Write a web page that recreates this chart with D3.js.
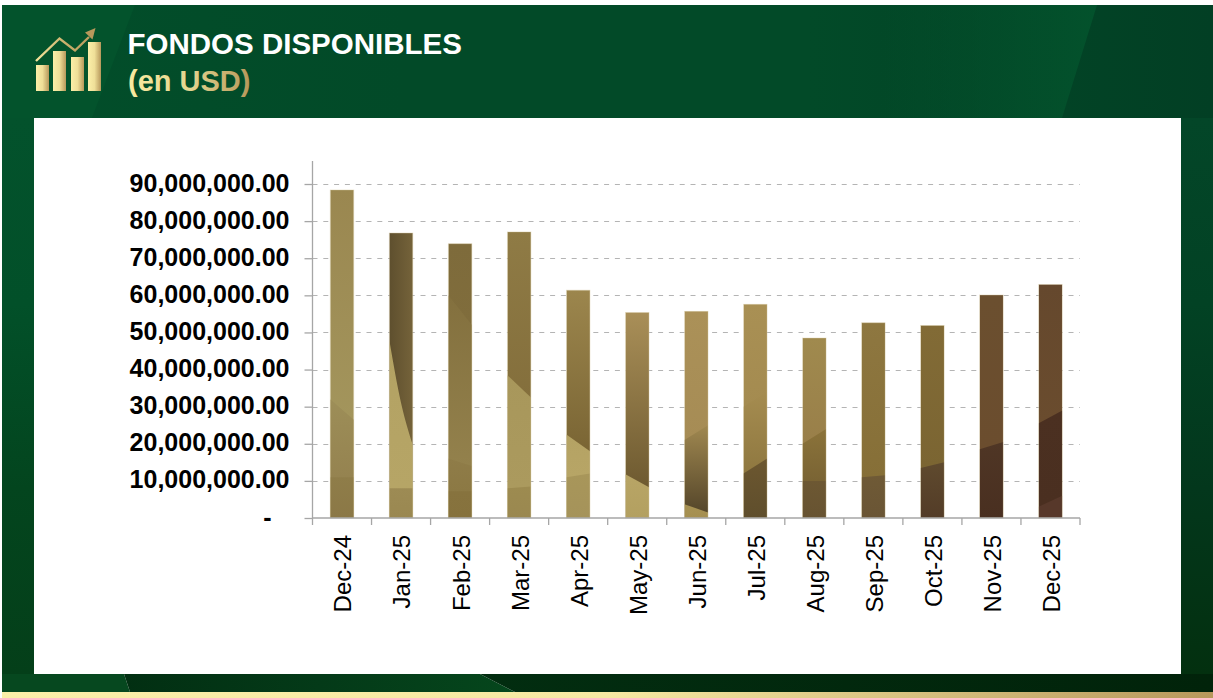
<!DOCTYPE html>
<html>
<head>
<meta charset="utf-8">
<title>Fondos disponibles</title>
<script src="https://d3js.org/d3.v7.min.js"></script>
<style>
  body { margin: 0; background: #fff; }
  svg { display: block; font-family: "Liberation Sans", Arial, sans-serif; }
  .grid line { stroke: #b4b4b4; stroke-width: 1; stroke-dasharray: 5 5.8; }
  .axis path, .axis line { stroke: #a6a6a6; stroke-width: 1.3; }
  .y-axis text { font-size: 25px; font-weight: bold; fill: #000; }
  .x-axis text { font-size: 24px; fill: #000; }
</style>
</head>
<body>
<script>
// values, in USD
var months = ["Dec-24","Jan-25","Feb-25","Mar-25","Apr-25","May-25","Jun-25","Jul-25","Aug-25","Sep-25","Oct-25","Nov-25","Dec-25"];
var funds = [88400000,76800000,73900000,77100000,61400000,55400000,55700000,57600000,48500000,52600000,51900000,60100000,62900000];
var yTicks = [0,10000000,20000000,30000000,40000000,50000000,60000000,70000000,80000000,90000000];

// the bars show a picture through them: for every bar, bands going down.
// edge = where the band starts (in millions), left to right across the bar
var barBands = [
  [{edge:[100,100], c:["#9a8750","#a3955c"]}, {edge:[32,26.5], c:["#9d8e58","#958350"]}, {edge:[11,11], c:["#8f7d49","#8b7846"]}],
  [{edge:[100,100], c:["#5e4f2e","#75633a"], h:1}, {edge:[48,31,19.6], c:["#b3a263","#b6a566"]}, {edge:[8,8], c:["#9d8b54","#9a8851"]}],
  [{edge:[100,100], c:["#7e6b3b","#806d3c"]}, {edge:[60,52], c:["#83703e","#93814c"]}, {edge:[16,14], c:["#8f7c48","#8c7944"]}, {edge:[7.2,7.2], c:["#87733e","#86723d"]}],
  [{edge:[100,100], c:["#8f7b45","#846f3c"]}, {edge:[38.5,32.5], c:["#a8975b","#ab9a5e"]}, {edge:[8,8.5], c:["#9d8b50","#9a8850"]}],
  [{edge:[100,100], c:["#9c864d","#7a6534"]}, {edge:[22.5,18], c:["#b5a364","#b7a566"]}, {edge:[11,12], c:["#a8965a","#a5935a"]}],
  [{edge:[100,100], c:["#a98f58","#6e5a30"]}, {edge:[11.8,8.3], c:["#b8a566","#b3a060"]}],
  [{edge:[100,100], c:["#ab9158","#a68c55"]}, {edge:[21,25], c:["#a08850","#55462a"]}, {edge:[3.7,1.5], c:["#a89253","#a58f50"]}],
  [{edge:[100,100], c:["#a99054","#a48b50"]}, {edge:[30,34], c:["#a58c50","#8f7840"]}, {edge:[12,16], c:["#6c5730","#5f4e2c"]}],
  [{edge:[100,100], c:["#a08a4e","#997f49"]}, {edge:[20,24], c:["#8b733a","#7a6434"]}, {edge:[10,10], c:["#6d5833","#675331"]}],
  [{edge:[100,100], c:["#8e7740","#866f37"]}, {edge:[11,11.5], c:["#6f5a36","#6a5535"]}],
  [{edge:[100,100], c:["#826b36","#7b6532"]}, {edge:[13.5,15], c:["#5f4a2e","#533c27"]}],
  [{edge:[100,100], c:["#6b4f2f","#6b4d2e"]}, {edge:[18.5,20.5], c:["#4f3625","#492f20"]}],
  [{edge:[100,100], c:["#65482d","#6a4c2e"]}, {edge:[25.5,29], c:["#4b3021","#4a2f20"]}, {edge:[3,6], c:["#57382a","#57382a"]}]
];

var width = 1213, height = 698;
var margin = {top: 161, right: 133, bottom: 180, left: 312.5};

var svg = d3.select("body").append("svg")
    .attr("width", width)
    .attr("height", height);
var defs = svg.append("defs");

function gradient(id, stops, x1, y1, x2, y2, units) {
  var g = defs.append("linearGradient").attr("id", id)
      .attr("x1", x1).attr("y1", y1).attr("x2", x2).attr("y2", y2);
  if (units) g.attr("gradientUnits", units);
  stops.forEach(function(c, i) {
    g.append("stop").attr("offset", i / (stops.length - 1)).attr("stop-color", c);
  });
}

gradient("bgHeader", ["#024e2a","#024a28","#024a28","#023f24"], 0, 0, 1, 0);
gradient("bgLeft", ["#03522c","#025029","#03451e","#043f19"], 0, 0, 0, 1);
gradient("bgRight", ["#034628","#024224","#03371c","#03300f"], 0, 0, 0, 1);
gradient("bgLow1", ["#022f12","#043a18","#05461c"], 0, 0, 1, 0);
gradient("bgLow2", ["#022d10","#01230a"], 0, 0, 1, 0);
gradient("goldBand", ["#fbefa8","#f6e9a2","#b7985b"], 0, 0, 1, 0);
gradient("goldH", ["#fbefa8","#efdf98","#b7985b"], 0, 0, 1, 0);
gradient("goldIcon", ["#f4e59c","#c9ae6a","#b7985b"], 36, 0, 96, 0, "userSpaceOnUse");
gradient("goldTitle", ["#f8eba0","#e5d58f","#b7985b"], 128, 0, 250, 0, "userSpaceOnUse");
defs.append("linearGradient").attr("id", "bgFade")
  .selectAll("stop")
  .data([[0, 0], [1, 1]])
  .join("stop")
    .attr("offset", function(d) { return d[0]; })
    .attr("stop-color", "#03522c")
    .attr("stop-opacity", function(d) { return d[1]; });

// background, only the parts round the white panel show
svg.append("rect").attr("x", 2).attr("y", 5).attr("width", width - 2).attr("height", 113).attr("fill", "url(#bgHeader)");
svg.append("polygon").attr("points", "2,5 135,5 92,118 2,118").attr("fill", "#03532c");
svg.append("polygon").attr("points", "880,5 1097,5 1062,118 880,118").attr("fill", "url(#bgFade)");
svg.append("rect").attr("x", 2).attr("y", 118).attr("width", 32).attr("height", 556).attr("fill", "url(#bgLeft)");
svg.append("rect").attr("x", 1181).attr("y", 118).attr("width", 32).attr("height", 556).attr("fill", "url(#bgRight)");
svg.append("polygon").attr("points", "2,674 124,674 130,692 2,692").attr("fill", "#06481f");
svg.append("polygon").attr("points", "124,674 480,674 515,692 130,692").attr("fill", "url(#bgLow1)");
svg.append("polygon").attr("points", "480,674 1213,674 1213,692 515,692").attr("fill", "url(#bgLow2)");
svg.append("rect").attr("x", 2).attr("y", 692).attr("width", width - 2).attr("height", 6)
    .attr("fill", "url(#goldBand)");
svg.append("rect").attr("x", 34).attr("y", 118).attr("width", 1147).attr("height", 556)
    .attr("fill", "#fff");

// header icon
var icon = svg.append("g");
[[36,65],[53,51],[71,57],[88,42]].forEach(function(b) {
  icon.append("rect").attr("x", b[0]).attr("y", b[1]).attr("width", 13).attr("height", 91 - b[1])
      .attr("fill", "url(#goldH)");
});
icon.append("polyline").attr("points", "36,61 59.5,38.5 75,50.5 89,37")
    .attr("fill", "none").attr("stroke", "url(#goldIcon)").attr("stroke-width", 2.4);
icon.append("polygon").attr("points", "95.5,28 85,32.5 92.5,39.5").attr("fill", "#b7985b");

// header text
svg.append("text").attr("x", 127.5).attr("y", 54)
    .style("font-size", "29.5px").style("font-weight", "bold").attr("fill", "#fff")
    .text("FONDOS DISPONIBLES");
svg.append("text").attr("x", 128).attr("y", 91)
    .style("font-size", "29px").style("font-weight", "bold").attr("fill", "url(#goldTitle)")
    .text("(en USD)");

// chart
var x = d3.scaleBand().domain(months)
    .range([margin.left, width - margin.right])
    .paddingInner(0.6).paddingOuter(0.3);
var y = d3.scaleLinear().domain([0, 96200000])
    .range([height - margin.bottom, margin.top]);

svg.append("g").attr("class", "grid")
  .selectAll("line")
  .data(yTicks.slice(1))
  .join("line")
    .attr("x1", margin.left)
    .attr("x2", width - margin.right)
    .attr("y1", function(d) { return Math.round(y(d)) + 0.5; })
    .attr("y2", function(d) { return Math.round(y(d)) + 0.5; });

var bars = svg.append("g").attr("class", "bars");

months.forEach(function(m, i) {
  var left = x(m), w = x.bandwidth(), base = y(0);
  var clipId = "barClip" + i;
  defs.append("clipPath").attr("id", clipId).append("rect")
      .attr("x", left).attr("y", y(funds[i])).attr("width", w).attr("height", base - y(funds[i]));

  var g = bars.append("g").attr("clip-path", "url(#" + clipId + ")");
  var edgeX = function(band, k) { return left + w * k / (band.edge.length - 1); };

  barBands[i].forEach(function(band, j) {
    var next = barBands[i][j + 1];
    var top = y(d3.max(band.edge) * 1e6);
    var bottom = next ? y(d3.min(next.edge) * 1e6) : base;
    var id = "band" + i + "_" + j;
    if (band.h) gradient(id, band.c, left, 0, left + w, 0, "userSpaceOnUse");
    else gradient(id, band.c, 0, Math.max(top, y(funds[i])), 0, bottom, "userSpaceOnUse");

    var line = d3.line()
        .x(function(d, k) { return edgeX(band, k); })
        .y(function(d) { return y(d * 1e6); })
        .curve(d3.curveMonotoneX);
    g.append("path")
        .attr("d", line(band.edge) + "L" + (left + w) + "," + base + "L" + left + "," + base + "Z")
        .attr("fill", "url(#" + id + ")");
  });

  // pale rim round the bar
  bars.append("rect")
      .attr("x", left).attr("y", y(funds[i])).attr("width", w).attr("height", base - y(funds[i]))
      .attr("fill", "none").attr("stroke", "#d9cda9").attr("stroke-width", 0.7).attr("opacity", 0.6);
});

var yAxis = d3.axisLeft(y)
    .tickValues(yTicks)
    .tickSize(8)
    .tickPadding(15)
    .tickFormat(function(d) { return d === 0 ? "-" : d3.format(",.2f")(d); });

var yG = svg.append("g").attr("class", "axis y-axis")
    .attr("transform", "translate(" + margin.left + ",0)")
    .call(yAxis);
yG.select(".domain").attr("d", "M0," + margin.top + "V" + y(0));
yG.selectAll(".tick text").attr("dy", "0.28em");
yG.selectAll(".tick").filter(function(d) { return d === 0; }).select("text").attr("dx", -18);

var xAxis = d3.axisBottom(x).tickSize(0).tickPadding(0);
var xG = svg.append("g").attr("class", "axis x-axis")
    .attr("transform", "translate(0," + y(0) + ")")
    .call(xAxis);
xG.select(".domain").attr("d", "M" + margin.left + ",0H" + (width - margin.right));
xG.selectAll(".tick text")
    .attr("transform", "rotate(-90)")
    .attr("text-anchor", "end")
    .attr("x", -17)
    .attr("y", 1)
    .attr("dy", "0.35em");

// tick marks sit between the months
xG.selectAll(".sep")
  .data(d3.range(months.length + 1))
  .join("line")
    .attr("class", "sep")
    .attr("x1", function(d) { return margin.left + d * x.step(); })
    .attr("x2", function(d) { return margin.left + d * x.step(); })
    .attr("y1", 0)
    .attr("y2", 7);
</script>
</body>
</html>
